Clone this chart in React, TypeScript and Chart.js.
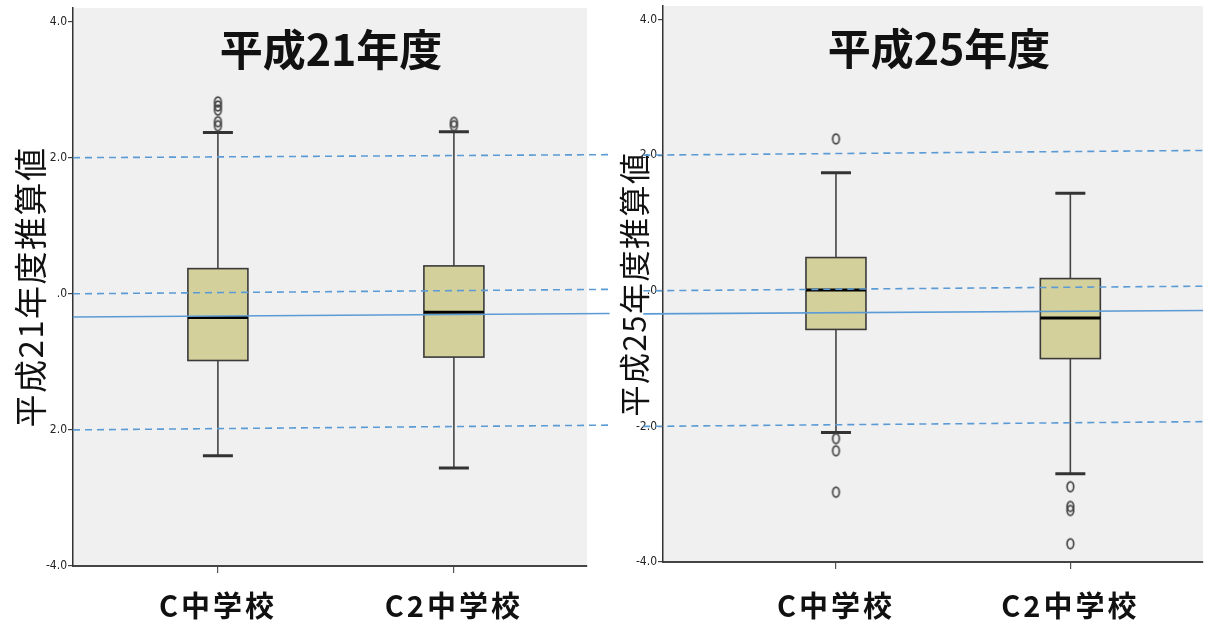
import React, { useEffect, useRef } from 'react';
import { Chart, registerables } from 'chart.js';

Chart.register(...registerables);

// Shared categories (schools) and their positions on the linear x scale
const categories = ['C中学校', 'C2中学校'];
const categoryPositions = [1, 2];
const yTickValues = [-4, -2, 0, 2, 4];

// 平成21年度
const h21Title = '平成21年度';
const h21AxisTitle = '平成21年度推算値';
const h21TickLabels = ['-4.0', '2.0', '.0', '2.0', '4.0'];
const h21WhiskerLow = [-2.38, -2.56];
const h21Q1 = [-0.98, -0.93];
const h21Median = [-0.35, -0.27];
const h21Q3 = [0.37, 0.41];
const h21WhiskerHigh = [2.37, 2.38];
const h21OutliersC = [2.82, 2.76, 2.7, 2.53, 2.47];
const h21OutliersC2 = [2.52, 2.47];
const h21RefStart = [2.0, 0.0, -0.34, -2.0];
const h21RefEnd = [2.045, 0.066, -0.29, -1.93];

// 平成25年度
const h25Title = '平成25年度';
const h25AxisTitle = '平成25年度推算値';
const h25TickLabels = ['-4.0', '-2.0', '.0', '2.0', '4.0'];
const h25WhiskerLow = [-2.09, -2.7];
const h25Q1 = [-0.57, -1.0];
const h25Median = [0.01, -0.4];
const h25Q3 = [0.49, 0.18];
const h25WhiskerHigh = [1.74, 1.44];
const h25OutliersC = [2.24, -2.18, -2.36, -2.97];
const h25OutliersC2 = [-2.89, -3.18, -3.24, -3.73];
const h25RefStart = [2.0, 0.0, -0.34, -2.0];
const h25RefEnd = [2.07, 0.068, -0.29, -1.93];

// Which reference lines are dashed (±2 band and zero) vs. solid
const refDashed = [true, true, false, true];

const REF_COLOR = '#5B9BD5';
const BOX_FILL = '#D4D09B';
const PLOT_BG = '#F0F0F0';
const CJK = '"Noto Sans CJK JP", "Noto Sans", sans-serif';
const NARROW = '"Liberation Sans Narrow", "DejaVu Sans Condensed", "Liberation Sans", sans-serif';

type PanelConfig = {
  left: number;
  width: number;
  title: string;
  axisTitle: string;
  tickLabels: string[];
  low: number[];
  q1: number[];
  median: number[];
  q3: number[];
  high: number[];
  outliers: number[][];
  refStart: number[];
  refEnd: number[];
  xMin: number;
  xMax: number;
  refFrom: number;
  refTo: number;
  yAxisWidth: number;
  xAxisHeight: number;
  padTop: number;
  padRight: number;
  axisTitleSize: number;
  axisTitlePad: number;
  labelPad: number;
  titleOffset: number;
  titleShift: number;
};

function makeOutlierMarker(): HTMLCanvasElement {
  const c = document.createElement('canvas');
  c.width = 11;
  c.height = 14;
  const g = c.getContext('2d')!;
  g.strokeStyle = '#454545';
  g.lineWidth = 1.7;
  g.beginPath();
  g.ellipse(5.5, 7, 3.3, 4.8, 0, 0, Math.PI * 2);
  g.stroke();
  return c;
}

// Wraps a scale drawing method so its text is drawn with extra tracking
function withTracking(scale: any, method: string, spacing: string) {
  const key = `__tracked_${method}`;
  if (scale[key]) return;
  const original = scale[method].bind(scale);
  scale[method] = (...args: any[]) => {
    const ctx = scale.ctx;
    ctx.save();
    (ctx as any).letterSpacing = spacing;
    original(...args);
    ctx.restore();
  };
  scale[key] = true;
}

// Fills the plotting region with the light grey background
const plotBackground = {
  id: 'plotBackground',
  beforeDraw(chart: any) {
    const { ctx, chartArea } = chart;
    withTracking(chart.scales.x, 'drawLabels', '3px');
    withTracking(chart.scales.y, 'drawTitle', '1.5px');
    ctx.save();
    ctx.fillStyle = PLOT_BG;
    ctx.fillRect(chartArea.left, chartArea.top, chartArea.right - chartArea.left, chartArea.bottom - chartArea.top);
    ctx.restore();
  },
};

// Box-and-whisker glyphs drawn from the quartile arrays via the chart scales
const boxPlot = {
  id: 'boxPlot',
  beforeDatasetsDraw(chart: any, _args: any, opts: any) {
    const { ctx } = chart;
    const xs = chart.scales.x;
    const ys = chart.scales.y;
    const halfBox = 30;
    const halfCap = 15;
    ctx.save();
    for (let i = 0; i < opts.positions.length; i++) {
      const cx = xs.getPixelForValue(opts.positions[i]);
      const yLow = ys.getPixelForValue(opts.low[i]);
      const yQ1 = ys.getPixelForValue(opts.q1[i]);
      const yMed = ys.getPixelForValue(opts.median[i]);
      const yQ3 = ys.getPixelForValue(opts.q3[i]);
      const yHigh = ys.getPixelForValue(opts.high[i]);

      ctx.strokeStyle = '#444';
      ctx.lineWidth = 1.6;
      ctx.beginPath();
      ctx.moveTo(cx, yHigh);
      ctx.lineTo(cx, yQ3);
      ctx.moveTo(cx, yQ1);
      ctx.lineTo(cx, yLow);
      ctx.stroke();

      ctx.strokeStyle = '#333';
      ctx.lineWidth = 3;
      ctx.beginPath();
      ctx.moveTo(cx - halfCap, yHigh);
      ctx.lineTo(cx + halfCap, yHigh);
      ctx.moveTo(cx - halfCap, yLow);
      ctx.lineTo(cx + halfCap, yLow);
      ctx.stroke();

      ctx.fillStyle = BOX_FILL;
      ctx.fillRect(cx - halfBox, yQ3, halfBox * 2, yQ1 - yQ3);
      ctx.strokeStyle = '#3a3a3a';
      ctx.lineWidth = 1.6;
      ctx.strokeRect(cx - halfBox, yQ3, halfBox * 2, yQ1 - yQ3);

      ctx.strokeStyle = '#000';
      ctx.lineWidth = 3;
      ctx.beginPath();
      ctx.moveTo(cx - halfBox, yMed);
      ctx.lineTo(cx + halfBox, yMed);
      ctx.stroke();
    }
    ctx.restore();
  },
};

// Panel heading drawn inside the plot region
const panelHeading = {
  id: 'panelHeading',
  afterDraw(chart: any, _args: any, opts: any) {
    const { ctx, chartArea } = chart;
    ctx.save();
    ctx.font = `bold 43px ${CJK}`;
    ctx.fillStyle = '#111';
    ctx.textAlign = 'center';
    ctx.textBaseline = 'middle';
    ctx.fillText(opts.text, (chartArea.left + chartArea.right) / 2 + opts.shift, chartArea.top + opts.offset);
    ctx.restore();
  },
};

function BoxPanel({ cfg }: { cfg: PanelConfig }) {
  const ref = useRef<HTMLCanvasElement | null>(null);

  useEffect(() => {
    if (!ref.current) return;
    const marker = makeOutlierMarker();

    const refDatasets = cfg.refStart.map((s, i) => ({
      data: [
        { x: cfg.refFrom, y: s },
        { x: cfg.refTo, y: cfg.refEnd[i] },
      ],
      showLine: true,
      borderColor: REF_COLOR,
      borderWidth: 1.6,
      borderDash: refDashed[i] ? [7, 5] : [],
      pointRadius: 0,
      clip: false as any,
      order: 0,
    }));

    const outlierData = cfg.outliers.flatMap((vals, i) =>
      vals.map((v) => ({ x: categoryPositions[i], y: v }))
    );

    const chart = new Chart(ref.current, {
      type: 'scatter',
      data: {
        datasets: [
          {
            data: outlierData,
            pointStyle: marker as any,
            pointRadius: 5,
            showLine: false,
            order: 1,
          } as any,
          ...refDatasets,
        ],
      },
      options: {
        animation: false,
        responsive: false,
        maintainAspectRatio: false,
        events: [],
        layout: { padding: { left: 0, right: cfg.padRight, top: cfg.padTop, bottom: 0 } },
        plugins: {
          legend: { display: false },
          tooltip: { enabled: false },
          boxPlot: {
            positions: categoryPositions,
            low: cfg.low,
            q1: cfg.q1,
            median: cfg.median,
            q3: cfg.q3,
            high: cfg.high,
          },
          panelHeading: { text: cfg.title, offset: cfg.titleOffset, shift: cfg.titleShift },
        } as any,
        scales: {
          x: {
            type: 'linear',
            min: cfg.xMin,
            max: cfg.xMax,
            afterBuildTicks: (s: any) => {
              s.ticks = categoryPositions.map((v) => ({ value: v }));
            },
            afterFit: (s: any) => {
              s.height = cfg.xAxisHeight;
              s.paddingLeft = 0;
              s.paddingRight = 0;
            },
            ticks: {
              autoSkip: false,
              maxRotation: 0,
              padding: cfg.labelPad,
              color: '#111',
              font: { family: CJK, size: 29, weight: 'bold' },
              callback: (_v: any, i: number) => categories[i],
            },
            grid: { drawOnChartArea: false, drawTicks: true, tickLength: 7, color: '#555', lineWidth: 1.2 },
            border: { display: true, color: '#444', width: 2 },
          },
          y: {
            type: 'linear',
            min: -4,
            max: 4.2,
            afterBuildTicks: (s: any) => {
              s.ticks = yTickValues.map((v) => ({ value: v }));
            },
            afterFit: (s: any) => {
              s.width = cfg.yAxisWidth;
              s.paddingTop = 0;
              s.paddingBottom = 0;
            },
            ticks: {
              padding: 1,
              color: '#222',
              font: { family: NARROW, size: 12 },
              callback: (_v: any, i: number) => cfg.tickLabels[i],
            },
            grid: { drawOnChartArea: false, drawTicks: true, tickLength: 5, color: '#444', lineWidth: 1.2 },
            border: { display: true, color: '#333', width: 1.5 },
            title: {
              display: true,
              text: cfg.axisTitle,
              color: '#111',
              font: { family: CJK, size: cfg.axisTitleSize },
              padding: { top: cfg.axisTitlePad, bottom: 0 },
            },
          },
        },
      },
      plugins: [plotBackground, boxPlot, panelHeading],
    });

    return () => chart.destroy();
  }, [cfg]);

  return (
    <canvas
      ref={ref}
      width={cfg.width}
      height={624}
      style={{ position: 'absolute', left: cfg.left, top: 0, width: cfg.width, height: 624 }}
    />
  );
}

const panel21: PanelConfig = {
  left: 0,
  width: 625,
  title: h21Title,
  axisTitle: h21AxisTitle,
  tickLabels: h21TickLabels,
  low: h21WhiskerLow,
  q1: h21Q1,
  median: h21Median,
  q3: h21Q3,
  high: h21WhiskerHigh,
  outliers: [h21OutliersC, h21OutliersC2],
  refStart: h21RefStart,
  refEnd: h21RefEnd,
  xMin: 0.386,
  xMax: 2.564,
  refFrom: 0.386,
  refTo: 2.66,
  yAxisWidth: 73,
  xAxisHeight: 58,
  padTop: 8,
  padRight: 38,
  axisTitleSize: 33,
  axisTitlePad: 11,
  labelPad: 16,
  titleOffset: 42,
  titleShift: 1,
};

const panel25: PanelConfig = {
  left: 600,
  width: 609,
  title: h25Title,
  axisTitle: h25AxisTitle,
  tickLabels: h25TickLabels,
  low: h25WhiskerLow,
  q1: h25Q1,
  median: h25Median,
  q3: h25Q3,
  high: h25WhiskerHigh,
  outliers: [h25OutliersC, h25OutliersC2],
  refStart: h25RefStart,
  refEnd: h25RefEnd,
  xMin: 0.262,
  xMax: 2.566,
  refFrom: 0.178,
  refTo: 2.566,
  yAxisWidth: 63,
  xAxisHeight: 62,
  padTop: 5,
  padRight: 0,
  axisTitleSize: 31,
  axisTitlePad: 16,
  labelPad: 20,
  titleOffset: 43,
  titleShift: 6,
};

export default function App() {
  return (
    <div
      style={{
        position: 'fixed',
        left: 0,
        top: 0,
        width: 1209,
        height: 624,
        background: '#fff',
        overflow: 'hidden',
      }}
    >
      <BoxPanel cfg={panel21} />
      <BoxPanel cfg={panel25} />
    </div>
  );
}
